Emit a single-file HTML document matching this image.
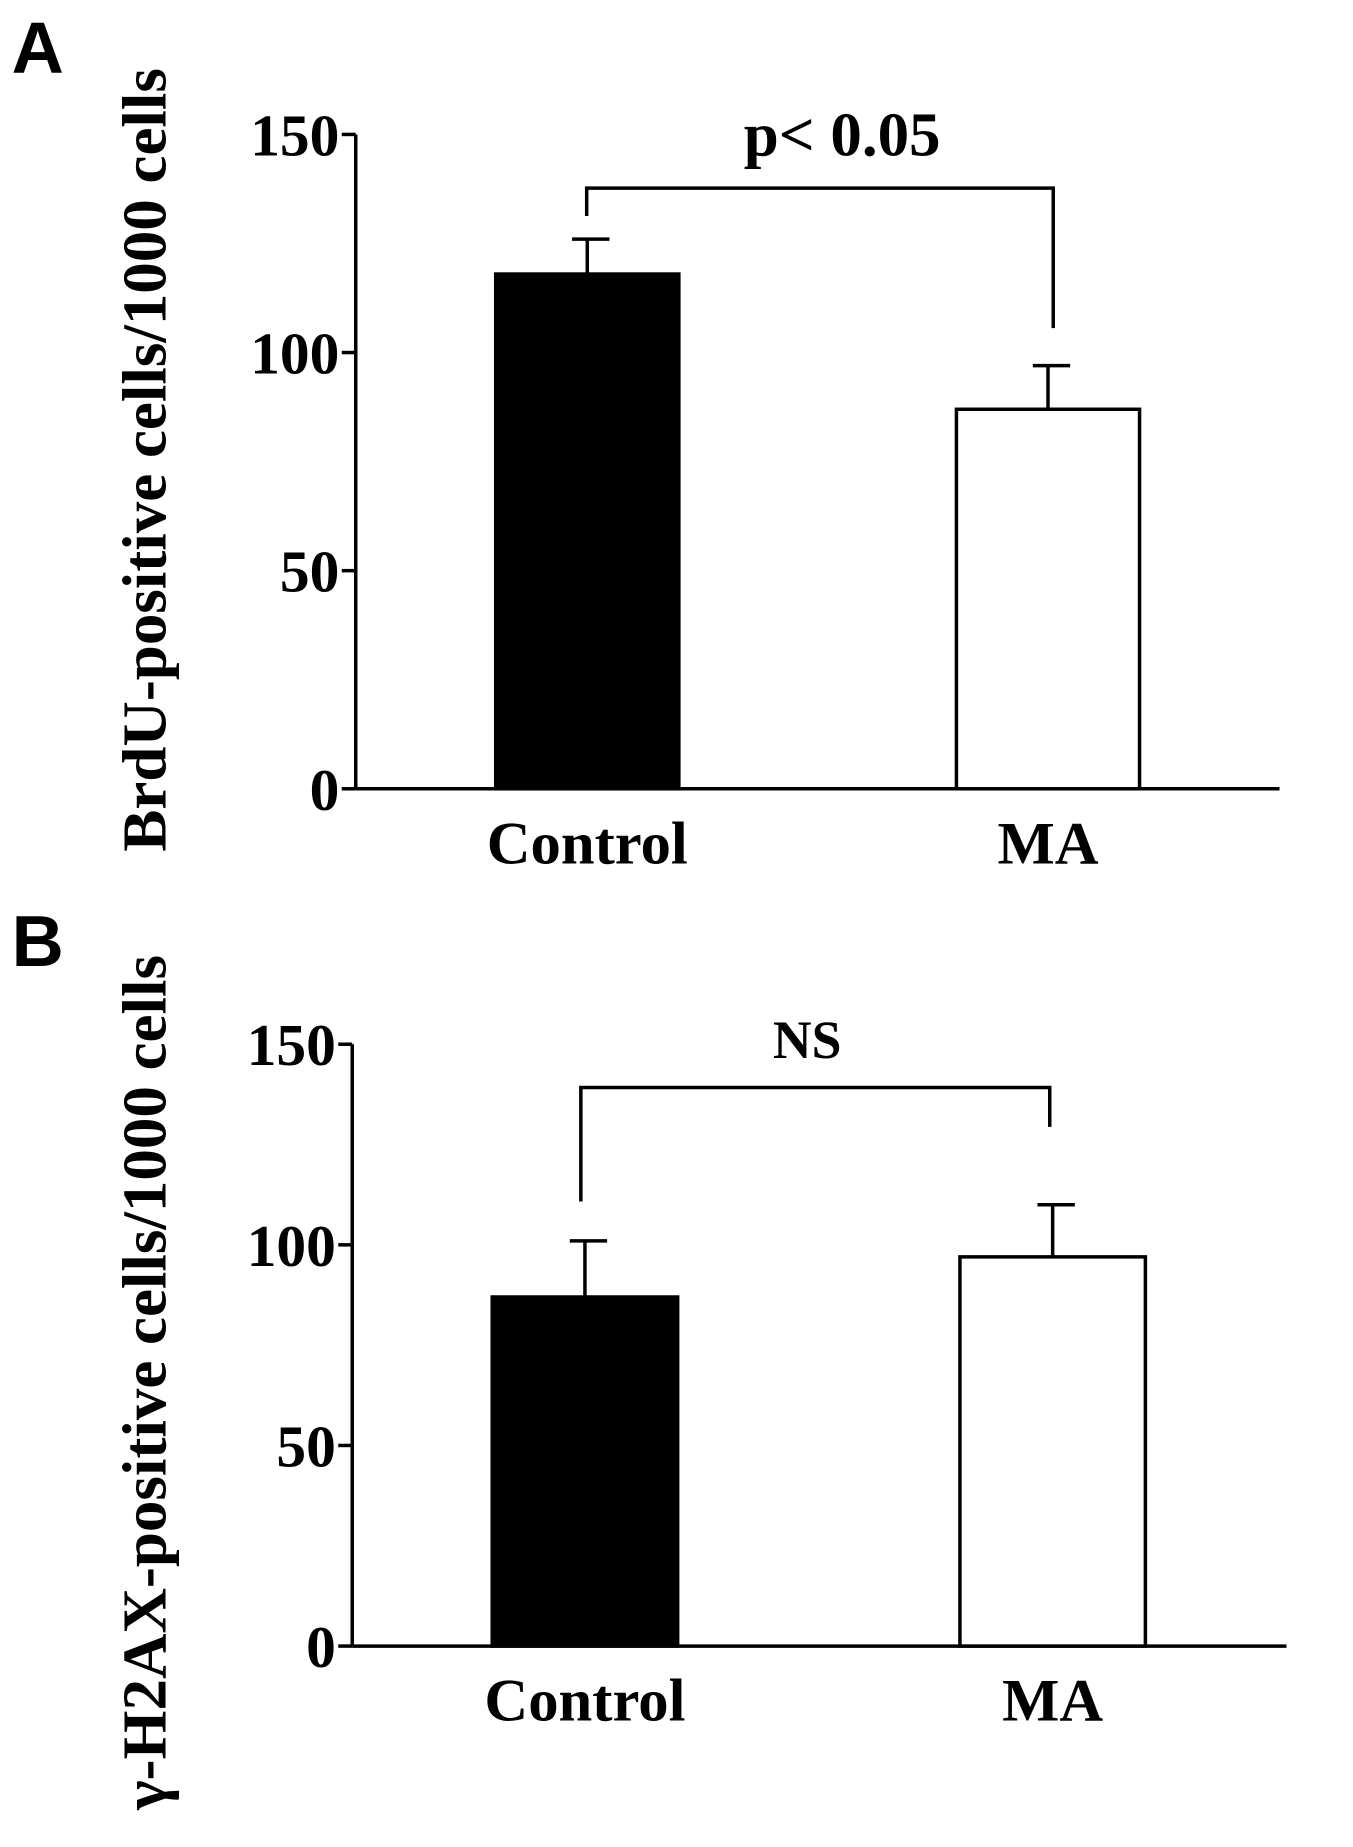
<!DOCTYPE html>
<html><head><meta charset="utf-8"><style>
html,body{margin:0;padding:0;background:#fff;}
svg{display:block;}
text{font-family:"Liberation Serif",serif;font-weight:bold;fill:#000;}
</style></head><body>
<svg id="fig" width="1353" height="1847" viewBox="0 0 1160 1583"></svg>
<script>
const categories = ["Control", "MA"];
const brduMeans = [118, 87];
const brduErrors = [8, 10];
const h2axMeans = [87, 97];
const h2axErrors = [14, 13];
const yTicks = [0, 50, 100, 150];
const brduBracket = [137.7, 131.3, 105.6];
const h2axBracket = [139.2, 110.8, 129.4];

const NS = "http://www.w3.org/2000/svg";
const svg = document.getElementById('fig');
function el(tag, attrs, parent){
  const e = document.createElementNS(NS, tag);
  for (const k in attrs) e.setAttribute(k, attrs[k]);
  (parent || svg).appendChild(e);
  return e;
}
function panel(cfg){
  const g = el('g', {});
  
  
  const y = v => cfg.y0 - (v / 150) * (cfg.y0 - cfg.y150);
  const x = i => cfg.barX[i];
  const bw = cfg.barW;
  const ya = el('line', {x1: cfg.ax, y1: y(150), x2: cfg.ax, y2: y(0), stroke: '#000', 'stroke-width': 3}, g);
  
  
  const xa = el('line', {x1: cfg.ax, y1: y(0), x2: cfg.axEnd, y2: y(0), stroke: '#000', 'stroke-width': 3}, g);
  
  
  yTicks.forEach(t => {
    el('line', {x1: cfg.ax - 12, y1: y(t), x2: cfg.ax, y2: y(t), stroke: '#000', 'stroke-width': 3}, g);
    const tx = el('text', {x: cfg.ax - 14, y: y(t) + 18, 'text-anchor': 'end', 'font-size': 51}, g);
    tx.textContent = t;
    
    
  });
  categories.forEach((c, i) => {
    const top = y(cfg.means[i]);
    const et = y(cfg.means[i] + cfg.errs[i]);
    const cx = x(i) + bw / 2;
    const eb = el('line', {x1: cx, y1: et, x2: cx, y2: top, stroke: '#000', 'stroke-width': 3}, g);
    
    
    el('line', {x1: cx - 13, y1: et, x2: cx + 19, y2: et, stroke: '#000', 'stroke-width': 3}, g);
    const r = el('rect', {x: x(i), y: top, width: bw, height: y(0) - top,
      fill: i === 0 ? '#000' : '#fff', stroke: '#000', 'stroke-width': 3}, g);
    
    
    const lb = el('text', {x: cx, y: y(0) + 64, 'text-anchor': 'middle', 'font-size': 52}, g);
    lb.textContent = c;
    
    
  });
  const b = cfg.bracket;
  const lx = cfg.brX[0], rx = cfg.brX[1];
  const br = el('polyline', {points: `${lx},${y(b[1])} ${lx},${y(b[0])} ${rx},${y(b[0])} ${rx},${y(b[2])}`,
    fill: 'none', stroke: '#000', 'stroke-width': 3}, g);
  
  
  const st = el('text', {x: cfg.sigX, y: cfg.sigY, 'text-anchor': 'middle', 'font-size': cfg.sigSize}, g);
  st.textContent = cfg.sig;
  
  
  const yt = el('text', {x: 0, y: 0, 'text-anchor': 'middle', 'font-size': 54,
    transform: `translate(${cfg.titleX},${cfg.titleY}) rotate(-90)`}, g);
  yt.textContent = cfg.title;
  
  
  const pl = el('text', {x: 10, y: cfg.letterY, 'font-size': 62,
    style: 'font-family:"Liberation Sans",sans-serif;font-weight:bold'}, g);
  pl.textContent = cfg.letter;
  
  
}
panel({name: 'panel-a', y0: 676, y150: 115, ax: 305, axEnd: 1097, barX: [425, 820], barW: 157,
  means: brduMeans, errs: brduErrors, bracket: brduBracket, brX: [503, 903],
  sig: 'p< 0.05', sigX: 722, sigY: 133, sigSize: 54,
  title: 'BrdU-positive cells/1000 cells', titleX: 142, titleY: 394, letter: 'A', letterY: 62});
panel({name: 'panel-b', y0: 1411, y150: 895, ax: 302, axEnd: 1103, barX: [422, 823], barW: 159,
  means: h2axMeans, errs: h2axErrors, bracket: h2axBracket, brX: [498, 900],
  sig: 'NS', sigX: 692, sigY: 907, sigSize: 46,
  title: 'γ-H2AX-positive cells/1000 cells', titleX: 142, titleY: 1185, letter: 'B', letterY: 828});
</script>
</body></html>
